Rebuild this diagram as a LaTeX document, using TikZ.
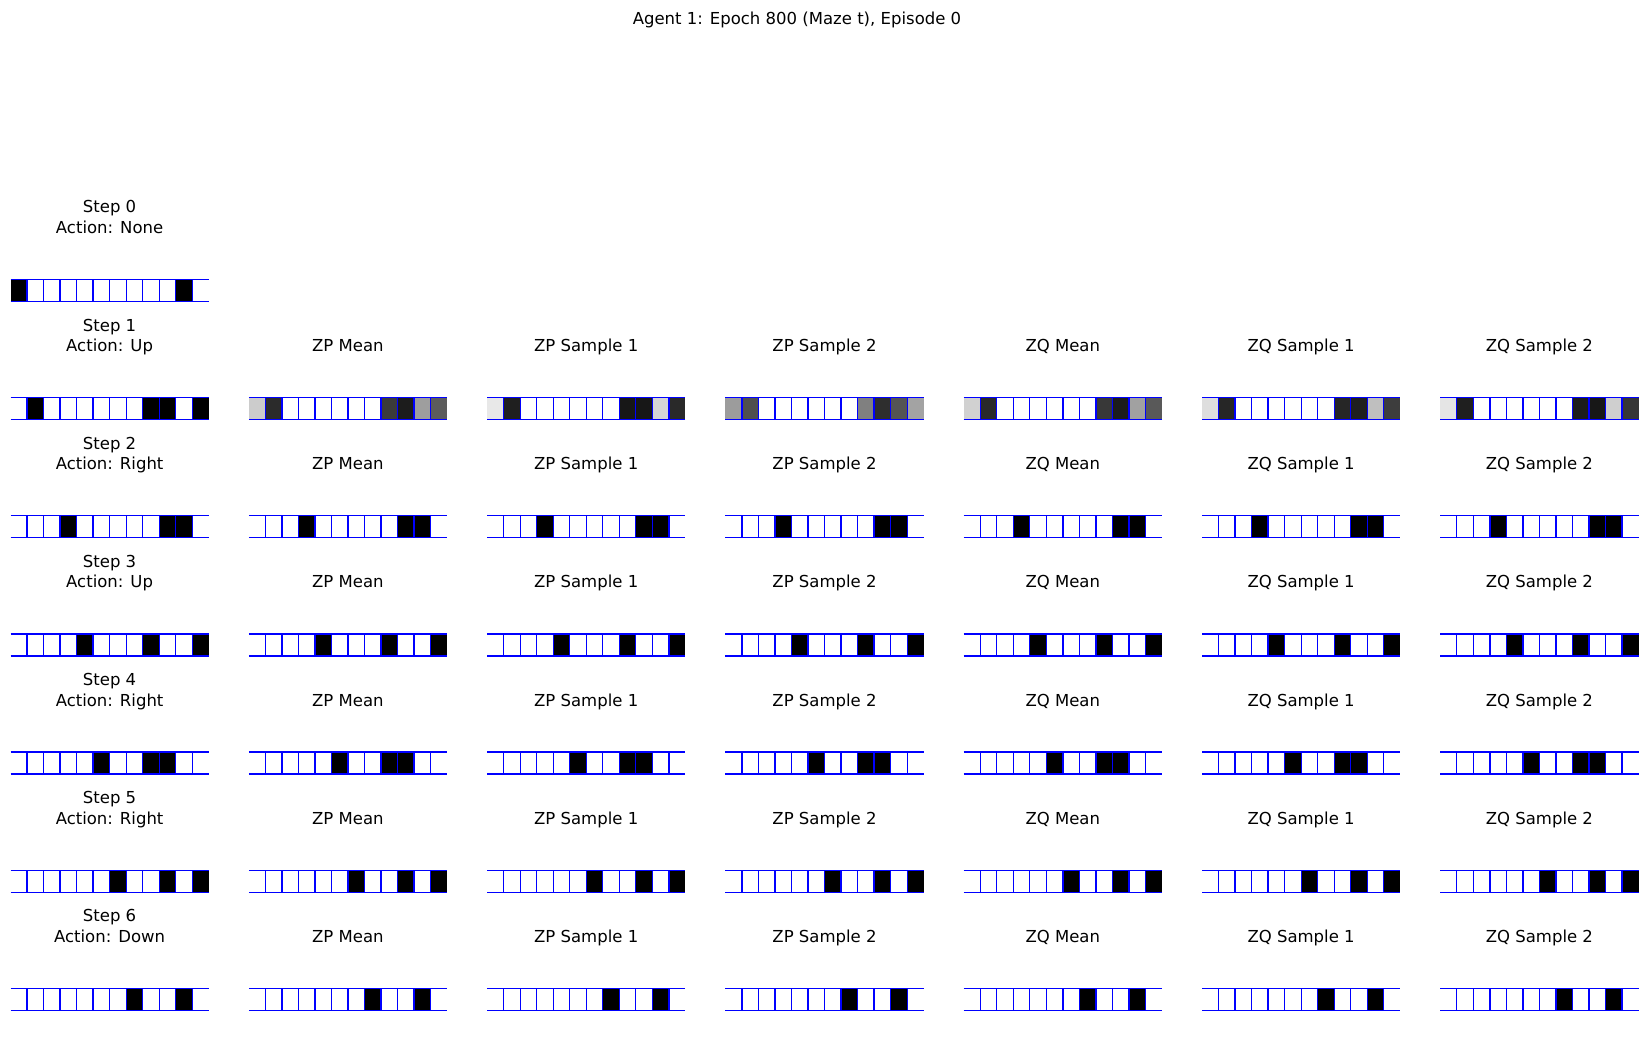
\documentclass[tikz,border=0pt]{standalone}
\usepackage{fontspec}
\setmainfont{DejaVu Sans}
\newcommand\mystrip[3]{%
  \edef\mylist{#3}%
  \foreach \p [count=\i from 0] in \mylist {
    \fill[black!\p] ({#1+\i*16.525},#2) rectangle ++(16.525,22);
  }
  \draw[gridline] (#1,#2) -- ++(198.3,0) (#1,#2+22) -- ++(198.3,0);
  \foreach \i in {1,...,11} \draw[gridline] ({#1+\i*16.525},#2) -- ++(0,22);
}
\begin{document}
\begin{tikzpicture}[x=1pt,y=-1pt,
  txt/.style={font=\fontsize{16.5}{20}\selectfont, anchor=base, inner sep=0pt},
  gridline/.style={blue, line width=1.3pt}]
\useasboundingbox (0,0) rectangle (1647,1059);
\node[txt] (title) at (797,25) {Agent 1: Epoch 800 (Maze t), Episode 0};

% row 0
\mystrip{10.5}{279.4}{100,0,0,0,0,0,0,0,0,0,100,0}
\node[txt] (s0) at (109.6,212.9) {Step 0};
\node[txt] (a0) at (109.6,233.4) {Action: None};

% step labels rows 1-6
\foreach \r/\act in {1/Up,2/Right,3/Up,4/Right,5/Right,6/Down} {
  \pgfmathsetmacro\yy{279.4+118.17*\r}
  \node[txt] (s\r) at (109.6,\yy-66.5) {Step \r};
  \node[txt] (a\r) at (109.6,\yy-46) {Action: \act};
  \foreach \k/\lab in {1/ZP Mean,2/ZP Sample 1,3/ZP Sample 2,4/ZQ Mean,5/ZQ Sample 1,6/ZQ Sample 2} {
    \node[txt] (t\r-\k) at ({109.6+238.3*\k},\yy-46) {\lab};
  }
}

% row 1
\mystrip{10.5}{397.57}{0,100,0,0,0,0,0,0,100,100,0,100}
\mystrip{248.8}{397.57}{20,83,0,0,0,0,0,0,77,89,38,64}
\mystrip{487.1}{397.57}{9,88,0,0,0,0,0,0,91,91,16,84}
\mystrip{725.4}{397.57}{39,69,0,0,0,0,0,0,50,82,67,36}
\mystrip{963.7}{397.57}{18,84,0,0,0,0,0,0,78,89,37,65}
\mystrip{1202.0}{397.57}{13,85,0,0,0,0,0,0,85,88,25,76}
\mystrip{1440.3}{397.57}{10,88,0,0,0,0,0,0,89,91,19,79}

% rows 2-6
\foreach \r/\vals in {2/{0,0,0,100,0,0,0,0,0,100,100,0},
                      3/{0,0,0,0,100,0,0,0,100,0,0,100},
                      4/{0,0,0,0,0,100,0,0,100,100,0,0},
                      5/{0,0,0,0,0,0,100,0,0,100,0,100},
                      6/{0,0,0,0,0,0,0,100,0,0,100,0}} {
  \pgfmathsetmacro\yy{279.4+118.17*\r}
  \foreach \k in {0,...,6} {
    \pgfmathsetmacro\xx{10.5+238.3*\k}
    \mystrip{\xx}{\yy}{\vals}
  }
}
\end{tikzpicture}
\end{document}
